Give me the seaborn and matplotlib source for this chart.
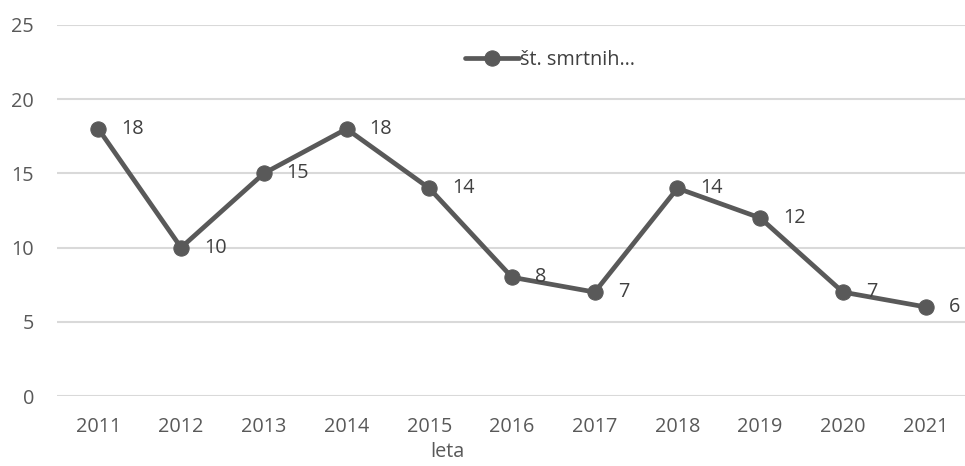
import matplotlib
matplotlib.use("Agg")
import matplotlib.pyplot as plt
import seaborn as sns
import pandas as pd

years = ["2011", "2012", "2013", "2014", "2015", "2016", "2017", "2018", "2019", "2020", "2021"]
deaths = [18, 10, 15, 18, 14, 8, 7, 14, 12, 7, 6]
series_name = "št. smrtnih…"
x_title = "leta"
y_ticks = [0, 5, 10, 15, 20, 25]

sns.set_theme(style="white")
plt.rcParams["font.family"] = ["Open Sans", "DejaVu Sans"]

line_color = "#595959"
text_color = "#595959"
label_color = "#404040"
grid_color = "#d9d9d9"
fs = 14.3

df = pd.DataFrame({"year": years, "value": deaths})
df["pos"] = range(len(years))

fig = plt.figure(figsize=(9.65, 4.66), dpi=100)
ax = fig.add_axes([57 / 965, 70 / 466, 910 / 965, 371 / 466])

sns.lineplot(data=df, x="pos", y="value", ax=ax, color=line_color,
             linewidth=3.4, marker="o", markersize=11,
             markeredgecolor=line_color, markerfacecolor=line_color,
             label=series_name, zorder=3)

for p, v in zip(df["pos"], df["value"]):
    ax.annotate(str(v), (p, v), xytext=(16.5, 0), textcoords="offset points",
                ha="left", va="center", fontsize=fs, color=label_color)

ax.set_xlim(-0.5, len(years) - 0.5)
ax.set_ylim(0, 25)
ax.set_xticks(list(df["pos"]))
ax.set_xticklabels(years)
ax.set_yticks(y_ticks)
ax.tick_params(axis="both", length=0, labelsize=fs, labelcolor=text_color)
ax.tick_params(axis="y", pad=16.5)
ax.tick_params(axis="x", pad=15)
ax.yaxis.grid(True, color=grid_color, linewidth=1.5)
ax.xaxis.grid(False)
for s in ax.spines.values():
    s.set_visible(False)
ax.set_xlabel("")
ax.set_ylabel("")

fig.text(447 / 965, 1 - 452 / 466, x_title, ha="center", va="center",
         fontsize=fs, color=text_color)

leg = ax.legend(loc="center left", bbox_to_anchor=(0.448, 0.906), frameon=False,
                fontsize=fs, handlelength=2.75, handletextpad=0.05,
                borderpad=0, borderaxespad=0)
for t in leg.get_texts():
    t.set_color(label_color)

fig.savefig("out.png", dpi=100, facecolor="white")
